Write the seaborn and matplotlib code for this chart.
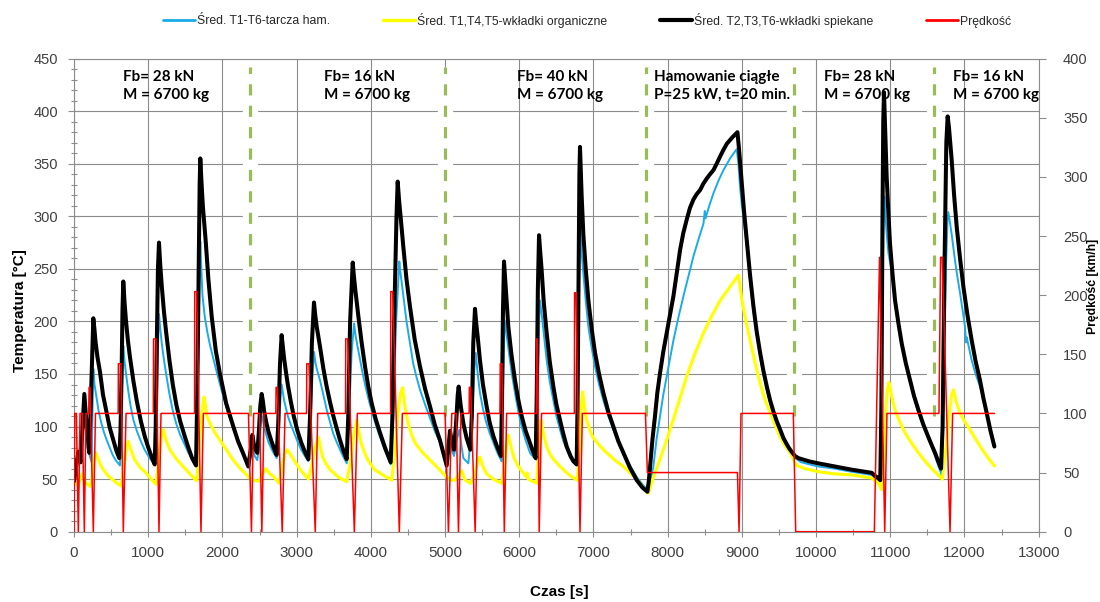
import matplotlib
matplotlib.use("Agg")
import matplotlib.pyplot as plt
import seaborn as sns
from matplotlib.lines import Line2D
from matplotlib.ticker import MultipleLocator
from matplotlib import font_manager

# ---------------- data ----------------
# Średnia T1-T6 - tarcza hamulcowa (disc)  [(time s, temperature °C)]
disc_points = [
    (0, 55), (30, 60), (57, 72), (90, 85), (140, 108), (160, 95), (180, 80), (236, 66),
    (248, 110), (259, 155), (275, 140), (295, 131), (330, 115), (365, 104), (400, 95),
    (440, 87), (480, 80), (520, 73), (560, 68), (618, 63),
    (635, 100), (650, 150), (663, 177), (680, 162), (700, 150), (730, 134), (760, 120),
    (800, 106), (850, 95), (900, 86), (950, 78), (1000, 72), (1050, 67), (1095, 63),
    (1110, 100), (1128, 170), (1144, 207), (1160, 194), (1180, 180), (1210, 164),
    (1240, 150), (1285, 131), (1330, 115), (1380, 102), (1430, 92), (1490, 83),
    (1540, 75), (1590, 69), (1640, 63),
    (1660, 110), (1680, 200), (1701, 276), (1715, 250), (1730, 225), (1760, 205),
    (1795, 190), (1830, 178), (1875, 165), (1922, 152), (1990, 134), (2057, 117),
    (2150, 97), (2237, 81), (2300, 71), (2348, 63),
    (2375, 70), (2402, 80), (2435, 72), (2469, 68), (2500, 85), (2520, 105), (2535, 110),
    (2560, 100), (2590, 92), (2620, 85), (2680, 76), (2730, 70),
    (2760, 95), (2780, 125), (2797, 140), (2830, 125), (2880, 110), (2920, 102),
    (2960, 95), (3010, 86), (3060, 78), (3110, 72), (3157, 67),
    (3180, 90), (3210, 145), (3233, 171), (3250, 162), (3270, 155), (3314, 144),
    (3360, 130), (3404, 116), (3450, 104), (3494, 93), (3540, 85), (3584, 78),
    (3630, 71), (3674, 65),
    (3700, 100), (3740, 170), (3773, 198), (3790, 188), (3810, 180), (3850, 165),
    (3885, 152), (3921, 140), (3965, 127), (4011, 115), (4065, 102), (4123, 90),
    (4190, 77), (4267, 64),
    (4300, 110), (4340, 200), (4383, 257), (4395, 248), (4410, 240), (4445, 220),
    (4480, 200), (4525, 180), (4570, 160), (4615, 147), (4662, 135), (4730, 121),
    (4797, 108), (4860, 96), (4931, 85), (4980, 73), (5021, 62),
    (5045, 75), (5066, 87), (5090, 78), (5120, 72), (5160, 88), (5192, 97), (5220, 82),
    (5246, 70), (5313, 65),
    (5360, 100), (5390, 150), (5412, 170), (5440, 150), (5470, 132), (5510, 117),
    (5550, 105), (5600, 94), (5650, 85), (5705, 75), (5762, 67),
    (5780, 120), (5795, 180), (5803, 201), (5825, 190), (5852, 175), (5895, 152),
    (5942, 132), (5985, 115), (6032, 100), (6085, 87), (6144, 75), (6190, 71), (6235, 68),
    (6255, 150), (6270, 205), (6279, 220), (6300, 208), (6320, 195), (6345, 178),
    (6369, 163), (6410, 143), (6459, 125), (6500, 110), (6549, 97), (6590, 87),
    (6639, 78), (6700, 69), (6773, 63),
    (6790, 140), (6808, 250), (6818, 295), (6828, 280), (6840, 265), (6863, 246),
    (6895, 220), (6931, 195), (6975, 175), (7021, 157), (7075, 140), (7133, 125),
    (7200, 110), (7268, 97), (7335, 86), (7403, 75), (7490, 63), (7583, 52), (7660, 45),
    (7726, 40),
    (7765, 48), (7807, 62), (7850, 88), (7897, 110), (7940, 130), (7987, 148), (8030, 165),
    (8077, 182), (8145, 204), (8212, 224), (8280, 243), (8347, 262), (8415, 278),
    (8482, 293), (8500, 305), (8510, 298), (8560, 310), (8617, 322), (8685, 334),
    (8752, 344), (8840, 355), (8931, 364),
    (8955, 348), (8975, 328), (9000, 310), (9020, 300), (9066, 271), (9110, 238),
    (9156, 210), (9200, 187), (9246, 166), (9290, 150), (9336, 135), (9380, 123),
    (9426, 112), (9470, 103), (9516, 94), (9560, 87), (9606, 81), (9640, 77), (9671, 74),
    (9716, 70), (9800, 66), (10030, 62), (10250, 60), (10480, 57), (10750, 54), (10840, 49),
    (10865, 48), (10885, 150), (10905, 280), (10920, 319), (10935, 300), (10951, 284),
    (10975, 265), (11000, 255), (11019, 250), (11030, 240), (11070, 215), (11109, 195),
    (11170, 171), (11240, 151), (11310, 130), (11378, 113), (11445, 100), (11513, 90),
    (11560, 81), (11603, 72), (11650, 62), (11693, 54),
    (11720, 140), (11750, 250), (11770, 295), (11782, 304), (11800, 296), (11827, 283),
    (11850, 270), (11872, 258), (11905, 242), (11940, 227), (11975, 210), (12007, 195),
    (12020, 180), (12030, 185), (12060, 175), (12097, 163), (12150, 150), (12209, 138),
    (12255, 125), (12299, 113), (12350, 98), (12403, 84)]

# Średnia T1,T4,T5 - wkładki organiczne
org_points = [
    (0, 46), (30, 46), (57, 43), (80, 50), (110, 55), (150, 47), (215, 43), (240, 50),
    (259, 62), (275, 70), (291, 75), (310, 72), (330, 68), (360, 63), (394, 59), (460, 53),
    (529, 49), (580, 46), (632, 43.5),
    (660, 55), (690, 72), (710, 82), (731, 86), (755, 80), (780, 75), (821, 68), (890, 61),
    (968, 56), (1040, 50), (1103, 45),
    (1130, 60), (1160, 80), (1180, 92), (1203, 97), (1225, 91), (1250, 85), (1290, 78),
    (1380, 69), (1470, 62), (1560, 55), (1640, 49), (1652, 48.5),
    (1675, 70), (1700, 95), (1725, 115), (1751, 128), (1770, 120), (1790, 110),
    (1831, 103), (1900, 94), (1966, 87), (2050, 78), (2146, 68), (2240, 60), (2326, 54),
    (2348, 52),
    (2402, 49), (2490, 48), (2540, 55), (2582, 60), (2640, 55), (2694, 52), (2761, 46),
    (2800, 60), (2840, 74), (2873, 78), (2920, 73), (2963, 68), (3010, 63), (3060, 58),
    (3110, 54), (3157, 50),
    (3200, 62), (3250, 80), (3292, 90), (3320, 80), (3350, 71), (3400, 64), (3450, 59),
    (3560, 52), (3674, 47.5),
    (3720, 65), (3770, 92), (3809, 106), (3840, 94), (3870, 84), (3915, 75), (3960, 68),
    (4050, 59), (4160, 54), (4280, 49),
    (4320, 75), (4370, 115), (4400, 132), (4428, 137), (4460, 118), (4500, 103),
    (4550, 92), (4600, 84), (4700, 75), (4800, 68), (4910, 60), (5021, 52),
    (5066, 49), (5130, 49), (5180, 54), (5223, 58), (5270, 49), (5340, 46),
    (5400, 55), (5440, 66), (5470, 71), (5510, 62), (5560, 55), (5650, 50), (5762, 46),
    (5800, 62), (5830, 85), (5852, 92), (5890, 80), (5930, 70), (5980, 63), (6030, 58),
    (6100, 52), (6110, 56), (6120, 50), (6235, 46),
    (6260, 75), (6280, 100), (6290, 106), (6330, 92), (6369, 81), (6410, 74), (6459, 69),
    (6550, 62), (6639, 56), (6710, 52), (6782, 49),
    (6810, 80), (6835, 118), (6854, 133), (6880, 118), (6908, 106), (6950, 97),
    (6990, 90), (7080, 82), (7178, 75), (7290, 68), (7403, 62), (7520, 54), (7628, 46),
    (7690, 40), (7740, 36.6),
    (7800, 50), (7897, 69), (7990, 88), (8077, 107), (8170, 128), (8257, 148),
    (8370, 170), (8482, 189), (8600, 206), (8707, 220), (8830, 232), (8954, 244),
    (8975, 233), (9000, 220), (9055, 200), (9111, 182), (9180, 160), (9246, 141),
    (9310, 126), (9381, 113), (9450, 101), (9516, 90), (9580, 82), (9651, 75),
    (9700, 68), (9738, 63), (9850, 60), (10030, 57), (10250, 55), (10480, 54),
    (10750, 51), (10840, 46), (10880, 40),
    (10910, 70), (10940, 115), (10960, 135), (10982, 142), (11020, 128), (11064, 116),
    (11130, 104), (11199, 94), (11290, 84), (11378, 75), (11470, 67), (11558, 60),
    (11630, 55), (11702, 50),
    (11750, 80), (11800, 115), (11825, 130), (11850, 135), (11890, 123), (11940, 113),
    (12000, 105), (12075, 97), (12150, 88), (12232, 79), (12320, 70), (12403, 62.5)]

# Średnia T2,T3,T6 - wkładki spiekane
sint_points = [
    (0, 48), (57, 76), (88, 66), (138, 131), (170, 100), (205, 75),
    (232, 140), (259, 203), (275, 192), (290, 180), (315, 166), (349, 152), (390, 130),
    (439, 113), (480, 99), (529, 87), (570, 77), (609, 70),
    (625, 95), (640, 150), (652, 210), (663, 238), (680, 218), (700, 200), (725, 182),
    (753, 166), (800, 143), (843, 125), (900, 105), (955, 90), (1000, 80), (1040, 72),
    (1086, 64),
    (1100, 100), (1115, 180), (1130, 250), (1144, 275), (1160, 255), (1180, 235),
    (1210, 210), (1240, 190), (1285, 163), (1330, 140), (1380, 120), (1430, 105),
    (1490, 91), (1540, 80), (1590, 70), (1643, 63),
    (1660, 130), (1680, 260), (1692, 330), (1701, 355), (1715, 335), (1735, 310),
    (1773, 277), (1810, 240), (1854, 205), (1910, 172), (1966, 150), (2050, 122),
    (2146, 100), (2210, 86), (2281, 74), (2348, 62),
    (2380, 78), (2402, 92), (2430, 80), (2469, 75), (2490, 95), (2510, 120), (2528, 131),
    (2545, 124), (2560, 115), (2590, 104), (2620, 95), (2660, 86), (2690, 80), (2730, 73),
    (2750, 100), (2775, 160), (2797, 187), (2815, 175), (2830, 165), (2855, 152),
    (2880, 140), (2920, 124), (2960, 110), (3010, 96), (3060, 85), (3110, 76), (3157, 69),
    (3180, 110), (3205, 180), (3233, 218), (3250, 206), (3270, 195), (3314, 176),
    (3360, 155), (3404, 138), (3450, 123), (3494, 110), (3540, 98), (3584, 87),
    (3630, 77), (3674, 69),
    (3695, 110), (3720, 200), (3755, 256), (3770, 244), (3790, 230), (3831, 205),
    (3875, 180), (3921, 157), (3965, 138), (4011, 122), (4065, 107), (4123, 94),
    (4190, 80), (4267, 66),
    (4290, 110), (4320, 220), (4345, 300), (4361, 333), (4380, 315), (4400, 300),
    (4437, 271), (4480, 240), (4527, 214), (4590, 183), (4662, 157), (4730, 136),
    (4797, 119), (4860, 102), (4931, 87), (4980, 74), (5021, 63),
    (5045, 80), (5066, 96), (5090, 86), (5120, 78), (5150, 105), (5170, 130), (5183, 138),
    (5210, 120), (5246, 103), (5290, 89), (5340, 78),
    (5360, 110), (5380, 180), (5403, 212), (5420, 198), (5440, 185), (5470, 163),
    (5510, 140), (5560, 119), (5600, 104), (5650, 91), (5700, 81), (5753, 72),
    (5765, 120), (5780, 210), (5794, 257), (5810, 240), (5825, 225), (5852, 195),
    (5895, 168), (5942, 144), (5985, 126), (6032, 110), (6085, 96), (6144, 84),
    (6180, 77), (6221, 70),
    (6235, 130), (6250, 230), (6266, 282), (6280, 268), (6300, 250), (6330, 218),
    (6369, 189), (6410, 162), (6459, 138), (6500, 121), (6549, 106), (6590, 94),
    (6639, 81), (6690, 72), (6729, 67), (6773, 64),
    (6785, 120), (6800, 260), (6810, 340), (6818, 366), (6828, 345), (6840, 320),
    (6863, 283), (6895, 250), (6931, 220), (6975, 193), (7021, 170), (7075, 150),
    (7133, 132), (7200, 114), (7268, 100), (7335, 86), (7403, 75), (7490, 61),
    (7583, 49), (7660, 42), (7726, 38),
    (7745, 48), (7762, 62), (7795, 88), (7829, 110), (7860, 132), (7897, 151), (7940, 171),
    (7987, 189), (8030, 206), (8077, 224), (8120, 245), (8167, 268), (8210, 284),
    (8257, 297), (8300, 308), (8347, 316), (8390, 321), (8437, 325), (8480, 331),
    (8527, 336), (8570, 340), (8617, 344), (8660, 350), (8707, 357), (8750, 363),
    (8797, 369), (8870, 375), (8940, 380),
    (8960, 365), (8980, 347), (8999, 331), (9030, 304), (9066, 277), (9110, 244),
    (9156, 214), (9200, 190), (9246, 170), (9290, 153), (9336, 138), (9380, 125),
    (9426, 114), (9470, 105), (9516, 97), (9560, 89), (9606, 83), (9640, 79), (9671, 76),
    (9716, 72), (9761, 70), (9900, 67), (10030, 65), (10255, 62), (10480, 59),
    (10750, 56), (10795, 53), (10840, 51), (10865, 49),
    (10880, 120), (10895, 300), (10905, 390), (10915, 418), (10930, 385), (10951, 338),
    (10975, 302), (10996, 274), (11030, 245), (11064, 220), (11110, 198), (11154, 179),
    (11210, 160), (11266, 144), (11320, 129), (11378, 116), (11445, 102), (11513, 90),
    (11560, 82), (11603, 75), (11645, 67), (11684, 60),
    (11705, 100), (11730, 250), (11755, 370), (11773, 395), (11790, 385), (11827, 354),
    (11860, 320), (11895, 290), (11940, 260), (11985, 233), (12040, 206), (12097, 182),
    (12150, 162), (12209, 144), (12255, 127), (12299, 113), (12350, 96), (12403, 81)]

# Prędkość [km/h]
speed_points = [
    (0, 0), (8, 100), (30, 100), (57, 0), (80, 100), (110, 100), (138, 0), (160, 100),
    (198, 100), (202, 122), (214, 122), (259, 0), (288, 100),
    (594, 100), (597, 142), (632, 142), (663, 0), (700, 100),
    (1068, 100), (1071, 163), (1104, 163), (1144, 0), (1171, 100),
    (1623, 100), (1626, 203), (1652, 203), (1710, 0), (1742, 100),
    (2350, 100), (2390, 0), (2420, 100), (2500, 100), (2530, 0), (2560, 100),
    (2719, 100), (2722, 122), (2739, 122), (2805, 0), (2843, 100),
    (3133, 100), (3136, 142), (3165, 142), (3250, 0), (3283, 100),
    (3658, 100), (3661, 163), (3687, 163), (3777, 0), (3817, 100),
    (4265, 100), (4268, 203), (4294, 203), (4383, 0), (4424, 100),
    (5000, 100), (5045, 0), (5090, 100), (5150, 100), (5180, 0), (5215, 100),
    (5324, 100), (5327, 122), (5345, 122), (5405, 0), (5440, 100),
    (5740, 100), (5743, 142), (5765, 142), (5798, 0), (5829, 100),
    (6230, 100), (6233, 163), (6245, 163), (6268, 0), (6300, 100),
    (6742, 100), (6745, 202), (6764, 202), (6818, 0), (6850, 100),
    (7700, 100), (7726, 50), (8940, 50), (8962, 0), (8988, 100), (9693, 100), (9725, 0),
    (10785, 0), (10855, 232), (10925, 0), (10955, 100),
    (11656, 100), (11678, 232), (11700, 232), (11805, 0), (11840, 100), (12403, 100)]

t_disc, T_disc = map(list, zip(*disc_points))
t_org, T_org = map(list, zip(*org_points))
t_sint, T_sint = map(list, zip(*sint_points))
t_speed, v_speed = map(list, zip(*speed_points))

# phase separators and annotations
sep_times = [2370, 5000, 7708, 9707, 11589]
note_x = [655, 3368, 5973, 7819, 10104, 11850]
note_line1 = ["Fb= 28 kN", "Fb= 16 kN", "Fb= 40 kN", "Hamowanie ciągłe", "Fb= 28 kN", "Fb= 16 kN"]
note_line2 = ["M = 6700 kg", "M = 6700 kg", "M = 6700 kg", "P=25 kW, t=20 min.", "M = 6700 kg", "M = 6700 kg"]

labels = ["Śred. T1-T6-tarcza ham.", "Śred. T1,T4,T5-wkładki organiczne",
          "Śred. T2,T3,T6-wkładki spiekane", "Prędkość"]

# ---------------- style ----------------
sns.set_theme(style="white")
plt.rcParams['font.family'] = ['Liberation Sans', 'DejaVu Sans']
avail = {f.name for f in font_manager.fontManager.ttflist}
note_font = 'Lato' if 'Lato' in avail else 'DejaVu Sans'

C_DISC = '#1AABE8'
C_ORG = '#FFFF00'
C_SINT = '#000000'
C_SPEED = '#FF0000'
C_SEP = '#9BBB59'
GRID = '#8C8C8C'
AXC = '#8C8C8C'
TXT = '#404040'

fig = plt.figure(figsize=(11, 6.02), dpi=100)
ax = fig.add_axes([0.06736, 0.11678, 0.87691, 0.78588])
ax2 = ax.twinx()

# grid
ax.set_axisbelow(True)
ax.grid(True, which='major', color=GRID, linewidth=0.8)
ax.grid(False, which='minor')

# separators (white gap + green dashed)
ax.vlines(sep_times, 110, 442, colors='white', linewidth=11, zorder=1.5)
ax.vlines(sep_times, 110, 442, colors=C_SEP, linewidth=2.3,
          linestyles=[(0, (3.5, 3.2))], zorder=1.6)

# temperature series
sns.lineplot(x=t_disc, y=T_disc, ax=ax, color=C_DISC, linewidth=1.4,
             sort=False, estimator=None, legend=False, zorder=3)
sns.lineplot(x=t_org, y=T_org, ax=ax, color=C_ORG, linewidth=2.2,
             sort=False, estimator=None, legend=False, zorder=3)
sns.lineplot(x=t_sint, y=T_sint, ax=ax, color=C_SINT, linewidth=2.9,
             sort=False, estimator=None, legend=False, zorder=4)
# speed series
sns.lineplot(x=t_speed, y=v_speed, ax=ax2, color=C_SPEED, linewidth=1.1,
             sort=False, estimator=None, legend=False, zorder=5)

# limits / ticks
ax.set_xlim(0, 13000)
ax.set_ylim(0, 450)
ax2.set_ylim(0, 400)
ax.xaxis.set_major_locator(MultipleLocator(1000))
ax.xaxis.set_minor_locator(MultipleLocator(500))
ax.yaxis.set_major_locator(MultipleLocator(50))
ax.yaxis.set_minor_locator(MultipleLocator(10))
ax2.yaxis.set_major_locator(MultipleLocator(50))

ax.tick_params(axis='y', which='major', left=True, direction='inout', length=9,
               width=0.8, color=AXC, labelsize=10.5, labelcolor=TXT, pad=7)
ax.tick_params(axis='y', which='minor', left=True, direction='inout', length=5,
               width=0.8, color=AXC)
ax.tick_params(axis='x', which='major', bottom=True, direction='inout', length=7,
               width=0.8, color=AXC, labelsize=11, labelcolor=TXT, pad=7)
ax.tick_params(axis='x', which='minor', bottom=True, direction='inout', length=5,
               width=0.8, color=AXC)
ax2.tick_params(axis='y', which='major', right=True, direction='out', length=5,
                width=0.8, color=AXC, labelsize=10.5, labelcolor=TXT, pad=12.5)

for s in ['left', 'bottom', 'top']:
    ax.spines[s].set_color(AXC)
    ax.spines[s].set_linewidth(0.8)
ax.spines['right'].set_visible(False)
for s in ['left', 'bottom', 'top']:
    ax2.spines[s].set_visible(False)
ax2.spines['right'].set_color(AXC)
ax2.spines['right'].set_linewidth(0.8)

# axis labels
ax.set_xlabel("Czas [s]", fontsize=11, fontweight='bold', color='black')
ax.xaxis.set_label_coords(0.5027, -0.1275)
ax.xaxis.label.set_va('center')
ax.set_ylabel("Temperatura [°C]", fontsize=11, fontweight='bold', color='black')
ax.yaxis.set_label_coords(-0.0561, 0.4665)
ax.yaxis.label.set_va('center')
ax2.set_ylabel("Prędkość [km/h]", fontsize=8.8, fontweight='bold', color='black')
ax2.yaxis.set_label_coords(1.0563, 0.5193)
ax2.yaxis.label.set_va('center')

# annotations
for x, l1, l2 in zip(note_x, note_line1, note_line2):
    ax.text(x, 429, l1, fontsize=11, fontweight='bold', family=[note_font, 'DejaVu Sans'],
            ha='left', va='baseline', color='black', zorder=6)
    ax.text(x, 411.3, l2, fontsize=11, fontweight='bold', family=[note_font, 'DejaVu Sans'],
            ha='left', va='baseline', color='black', zorder=6)

# legend
handles = [Line2D([], [], color=C_DISC, linewidth=2.0),
           Line2D([], [], color=C_ORG, linewidth=2.5),
           Line2D([], [], color=C_SINT, linewidth=3.0),
           Line2D([], [], color=C_SPEED, linewidth=2.0)]
fig.legend(handles, labels, loc='center left', bbox_to_anchor=(163 / 1100, 1 - 20 / 602),
           ncol=4, frameon=False, fontsize=8.8, handlelength=2.6, handletextpad=0.2,
           columnspacing=4.3, borderpad=0, borderaxespad=0)

fig.savefig("out.png", dpi=100)
